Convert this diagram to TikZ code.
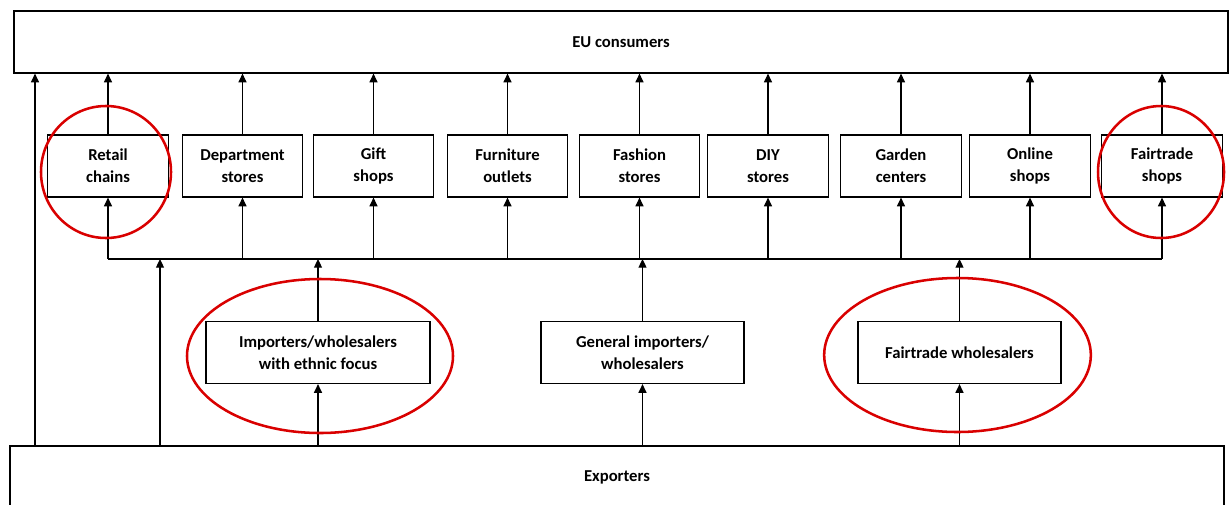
\documentclass[tikz,border=0pt]{standalone}
\usepackage{fontspec}
\setmainfont{Carlito}
\usetikzlibrary{arrows.meta}

\begin{document}
\begin{tikzpicture}[x=.75pt, y=-.75pt, >={Triangle[length=6.5pt,width=6pt]}, line width=.9pt,
	box/.style={draw, align=center, inner sep=0pt, minimum height=46.5pt,
		font=\fontsize{12.5}{16.5}\selectfont\bfseries},
	shop/.style={box, minimum width=90.5pt},
	ring/.style={red!85!black, line width=1.9pt}]
	\useasboundingbox (0,0) rectangle (1231,504);
	\node[box, minimum width=910.5pt] (eu) at (621,42) {EU consumers};
	\node[box, minimum width=910.5pt] (exp) at (617,477) {Exporters};
	\foreach \name/\x/\txt in {retail/108/{Retail\\chains}, dept/242.5/{Department\\stores},
		gift/373.5/{Gift\\shops}, furn/507.5/{Furniture\\outlets}, fashion/639.5/{Fashion\\stores},
		diy/768/{DIY\\stores}, garden/901/{Garden\\centers}, online/1030/{Online\\shops},
		ftshop/1162/{Fairtrade\\shops}}
		\node[shop] (\name) at (\x,166) {\txt};
	\node[box, minimum width=168pt] (ethnic) at (318,352.5) {Importers/wholesalers\\with ethnic focus};
	\node[box, minimum width=152.25pt] (general) at (642.5,352.5) {General importers/\\wholesalers};
	\node[box, minimum width=152.25pt] (ftwhole) at (959.5,352.5) {Fairtrade wholesalers};
	\coordinate (bus) at (0,259);
	\coordinate (direct) at (35,0);
	\coordinate (toshops) at (160,0);
	\foreach \name in {retail,dept,gift,furn,fashion,diy,garden,online,ftshop}{
		\draw[->] (\name.north) -- (\name.north |- eu.south);
		\draw[->] (\name.south |- bus) -- (\name.south);}
	\draw (retail.south |- bus) -- (ftshop.south |- bus);
	\foreach \name in {ethnic,general,ftwhole}{
		\draw[->] (\name.north) -- (\name.north |- bus);
		\draw[->] (\name.south |- exp.north) -- (\name.south);}
	\draw[->] (direct |- exp.north) -- (direct |- eu.south);
	\draw[->] (toshops |- exp.north) -- (toshops |- bus);
	\draw[ring] (106,172) ellipse [x radius=48.75pt, y radius=49.5pt];
	\draw[ring] (1161,172) ellipse [x radius=47.25pt, y radius=49.5pt];
	\draw[ring] (320,356) ellipse [x radius=99.75pt, y radius=57.75pt];
	\draw[ring] (957.5,355) ellipse [x radius=100pt, y radius=57.75pt];
\end{tikzpicture}
\end{document}
